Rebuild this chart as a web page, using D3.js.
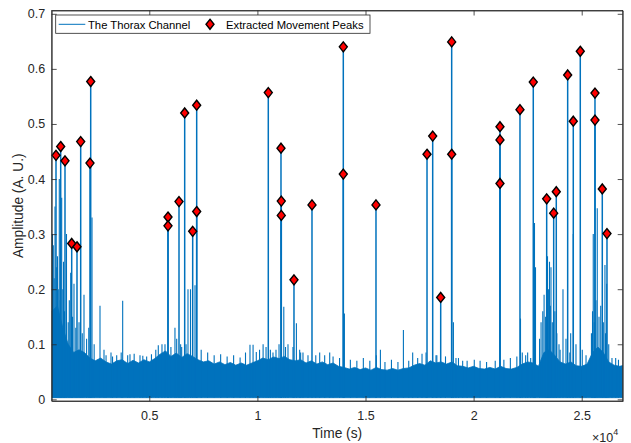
<!DOCTYPE html>
<html>
<head>
<meta charset="utf-8">
<script src="https://cdn.jsdelivr.net/npm/d3@7"></script>
<style>
	body { margin: 0; background: #fff; }
	svg { font-family: "Liberation Sans", Arial, sans-serif; }
	.axis path, .axis line { stroke: #262626; stroke-width: 0.8; }
	.axis text { fill: #262626; font-size: 12.5px; }
</style>
</head>
<body>
<div id="chart"></div>
<script>
// peaks picked out by the detector (sample index, amplitude)
var peakTime = [685, 902, 1101, 1411, 1656, 1827, 2257, 2290, 5865, 5865, 6374, 6637, 7007, 7192, 7192,
	10504, 11091, 11105, 11105, 11692, 12525, 13973, 13973, 15485, 17845, 18108, 18478, 18986, 18986,
	21220, 21220, 21220, 22145, 22760, 23380, 23704, 23824, 24351, 24610, 24934, 25614, 25614, 25952, 26169];
var peakAmp = [0.443, 0.459, 0.433, 0.283, 0.277, 0.468, 0.429, 0.577, 0.331, 0.315, 0.359, 0.520, 0.305, 0.534, 0.341,
	0.557, 0.456, 0.360, 0.334, 0.217, 0.353, 0.640, 0.409, 0.353, 0.445, 0.478, 0.185, 0.649, 0.445,
	0.495, 0.471, 0.392, 0.526, 0.576, 0.364, 0.338, 0.377, 0.589, 0.505, 0.632, 0.556, 0.507, 0.382, 0.301];

// top of the dense noise band, every 250 samples from 500
var envStart = 500, envStep = 250;
var envTop = [0.16, 0.17, 0.13, 0.10, 0.085, 0.09, 0.085, 0.075, 0.07, 0.075,
	0.068, 0.064, 0.07, 0.072, 0.065, 0.071, 0.066, 0.072, 0.068, 0.074,
	0.082, 0.088, 0.078, 0.084, 0.076, 0.083, 0.078, 0.072, 0.068, 0.07,
	0.064, 0.068, 0.063, 0.067, 0.062, 0.066, 0.062, 0.066, 0.07, 0.075,
	0.072, 0.077, 0.074, 0.078, 0.072, 0.07, 0.072, 0.066, 0.07, 0.064,
	0.068, 0.063, 0.066, 0.06, 0.058, 0.055, 0.058, 0.054, 0.057, 0.053,
	0.058, 0.054, 0.053, 0.056, 0.053, 0.056, 0.057, 0.062, 0.065, 0.062,
	0.07, 0.066, 0.068, 0.064, 0.068, 0.061, 0.06, 0.057, 0.06, 0.056,
	0.055, 0.058, 0.055, 0.06, 0.056, 0.055, 0.058, 0.064, 0.068, 0.066,
	0.06, 0.085, 0.09, 0.08, 0.068, 0.064, 0.068, 0.061, 0.06, 0.064,
	0.085, 0.095, 0.085, 0.068, 0.062, 0.06, 0.062];
var envLow = 0.003;

// other spikes in the signal that were not marked
var spikeTime = [523, 560, 600, 639, 700, 754, 790, 837, 880, 948, 1000, 1032, 1080, 1170, 1250, 1300, 1365,
	1450, 1517, 1600, 1750, 1900, 1980, 2100, 2200, 2350, 2450, 2720, 2905, 3000, 3229, 3300, 3492, 3700, 3769,
	4000, 4107, 4300, 4570, 4700, 4878, 5100, 5300, 5416, 5587, 5726, 6000, 6187, 6267, 6450, 6498, 6700, 6790,
	6906, 7114, 7400, 7700, 8000, 8300, 8600, 8900, 9200, 9450,
	9657, 9800, 9949, 10100, 10264, 10400, 10600, 10721, 10860, 11000, 11221, 11300, 11415, 11646, 11804, 11955,
	12000, 12108, 12340, 12700, 12881, 13112, 13344, 13500, 13800,
	14024, 14300, 14600, 14900, 15200, 15500, 15689, 15900, 16200, 16500, 16753, 17000, 17182, 17413, 17614,
	17800, 18261, 18300, 18700, 19066, 19185, 19300, 19494, 19700, 20031, 20300, 20600, 21000, 21400, 21700,
	22000, 22169, 22251, 22408, 22500, 22640, 22816, 22863, 23050, 23120, 23200, 23260, 23330, 23418, 23460,
	23510, 23550, 23579, 23640, 23760, 23850, 23950, 24000, 24134, 24273, 24450, 24490, 24609, 24735, 25026,
	25200, 25450, 25500, 25534, 25580, 25660, 25719, 25800, 25880, 26000, 26075, 26100, 26155, 26250, 26400,
	26571, 26700];
var spikeAmp = [0.30, 0.28, 0.22, 0.35, 0.24, 0.26, 0.20, 0.40, 0.18, 0.366, 0.20, 0.25, 0.16, 0.30, 0.14, 0.18, 0.23,
	0.15, 0.21, 0.13, 0.14, 0.12, 0.19, 0.11, 0.13, 0.33, 0.10, 0.17, 0.09, 0.08, 0.085, 0.078, 0.08, 0.085, 0.179,
	0.08, 0.082, 0.083, 0.08, 0.079, 0.078, 0.082, 0.09, 0.098, 0.10, 0.10, 0.095, 0.13, 0.11, 0.10, 0.095, 0.10, 0.20,
	0.20, 0.207, 0.09, 0.085, 0.08, 0.082, 0.078, 0.08, 0.076, 0.085,
	0.099, 0.099, 0.086, 0.09, 0.10, 0.095, 0.09, 0.085, 0.09, 0.10, 0.168, 0.095, 0.10, 0.095, 0.138, 0.09,
	0.085, 0.085, 0.08, 0.08, 0.085, 0.08, 0.085, 0.078, 0.075,
	0.156, 0.072, 0.07, 0.075, 0.07, 0.08, 0.09, 0.068, 0.072, 0.068, 0.126, 0.07, 0.085, 0.075, 0.083,
	0.085, 0.08, 0.08, 0.078, 0.14, 0.075, 0.075, 0.07, 0.07, 0.072, 0.07, 0.068, 0.07, 0.072, 0.075,
	0.078, 0.147, 0.085, 0.08, 0.085, 0.075, 0.32, 0.24, 0.11, 0.14, 0.16, 0.19, 0.15, 0.26, 0.20,
	0.25, 0.17, 0.24, 0.14, 0.16, 0.12, 0.10, 0.09, 0.20, 0.11, 0.085, 0.12, 0.30, 0.10, 0.09,
	0.08, 0.12, 0.16, 0.30, 0.14, 0.18, 0.347, 0.15, 0.17, 0.14, 0.244, 0.12, 0.21, 0.10, 0.075,
	0.075, 0.072];

var xTicks = [5000, 10000, 15000, 20000, 25000];
var yTicks = [0, 0.1, 0.2, 0.3, 0.4, 0.5, 0.6, 0.7];

var blue = "#0072BD";

drawChart();

function drawChart()
{
	var width = 631, height = 443;
	var left = 51.7, right = 622.7, top = 10.5, bottom = 401;

	var svg = d3.select("#chart").append("svg")
		.attr("width", width)
		.attr("height", height);

	var x = d3.scaleLinear()
		.domain([486, 26896])
		.range([left, right]);

	var y = d3.scaleLinear()
		.domain([-0.003, 0.706])
		.range([bottom, top]);

	svg.append("clipPath")
		.attr("id", "plot-clip")
		.append("rect")
		.attr("x", left).attr("y", top)
		.attr("width", right - left).attr("height", bottom - top);

	var plot = svg.append("g").attr("clip-path", "url(#plot-clip)");

	// dense noise band
	var env = envTop.map(function(v, i) { return { t: envStart + i * envStep, v: v }; });
	var area = d3.area()
		.x(function(d) { return x(d.t); })
		.y0(y(envLow))
		.y1(function(d) { return y(d.v); });

	plot.append("path")
		.datum(env)
		.attr("d", area)
		.style("fill", blue)
		.style("stroke", blue)
		.style("stroke-width", 0.8);

	// unmarked spikes
	plot.selectAll(".spike")
		.data(d3.range(spikeTime.length))
		.enter()
		.append("line")
		.attr("class", "spike")
		.attr("x1", function(i) { return x(spikeTime[i]); })
		.attr("x2", function(i) { return x(spikeTime[i]); })
		.attr("y1", y(envLow))
		.attr("y2", function(i) { return y(spikeAmp[i]); })
		.style("stroke", blue)
		.style("stroke-width", 1.1);

	// signal excursions up to each peak
	plot.selectAll(".stem")
		.data(d3.range(peakTime.length))
		.enter()
		.append("line")
		.attr("class", "stem")
		.attr("x1", function(i) { return x(peakTime[i]); })
		.attr("x2", function(i) { return x(peakTime[i]); })
		.attr("y1", y(envLow))
		.attr("y2", function(i) { return y(peakAmp[i]); })
		.style("stroke", blue)
		.style("stroke-width", 1.5);

	function diamond(cx, cy)
	{
		return "M" + cx + "," + (cy - 5) + "L" + (cx + 4) + "," + cy + "L" + cx + "," + (cy + 5) + "L" + (cx - 4) + "," + cy + "Z";
	}

	svg.selectAll(".peak")
		.data(d3.range(peakTime.length))
		.enter()
		.append("path")
		.attr("class", "peak")
		.attr("d", function(i) { return diamond(x(peakTime[i]), y(peakAmp[i])); })
		.style("fill", "#ff0000")
		.style("stroke", "#000")
		.style("stroke-width", 1.4);

	// axes, MATLAB style box with inward ticks
	var fmt = function(d) { return d3.format("")(+(d / 1e4).toFixed(2)); };

	svg.append("g")
		.attr("class", "axis")
		.attr("transform", "translate(0," + bottom + ")")
		.call(d3.axisBottom(x).tickValues(xTicks).tickFormat(fmt).tickSizeInner(-5).tickSizeOuter(0))
		.selectAll("text")
		.attr("y", 10)
		.attr("dy", "0.71em");

	svg.append("g")
		.attr("class", "axis")
		.attr("transform", "translate(0," + top + ")")
		.call(d3.axisTop(x).tickValues(xTicks).tickFormat("").tickSizeInner(-5).tickSizeOuter(0));

	svg.append("g")
		.attr("class", "axis")
		.attr("transform", "translate(" + left + ",0)")
		.call(d3.axisLeft(y).tickValues(yTicks).tickFormat(function(d) { return d3.format("")(d); }).tickSizeInner(-5).tickSizeOuter(0))
		.selectAll("text")
		.attr("x", -6.5);

	svg.append("g")
		.attr("class", "axis")
		.attr("transform", "translate(" + right + ",0)")
		.call(d3.axisRight(y).tickValues(yTicks).tickFormat("").tickSizeInner(-5).tickSizeOuter(0));

	svg.append("rect")
		.attr("x", left).attr("y", top)
		.attr("width", right - left).attr("height", bottom - top)
		.style("fill", "none")
		.style("stroke", "#262626")
		.style("stroke-width", 0.8);

	// labels
	svg.append("text")
		.attr("x", (left + right) / 2)
		.attr("y", 438)
		.attr("text-anchor", "middle")
		.style("font-size", "13.75px")
		.style("fill", "#262626")
		.text("Time (s)");

	svg.append("text")
		.attr("transform", "translate(23," + ((top + bottom) / 2) + ") rotate(-90)")
		.attr("text-anchor", "middle")
		.style("font-size", "13.75px")
		.style("fill", "#262626")
		.text("Amplitude (A. U.)");

	var exp = svg.append("text")
		.attr("x", 592)
		.attr("y", 441.5)
		.style("font-size", "12.5px")
		.style("fill", "#262626");
	exp.append("tspan").text("\u00d710");
	exp.append("tspan").attr("dy", -7).style("font-size", "9px").text("4");

	// legend
	var lg = svg.append("g").attr("class", "legend");
	lg.append("rect")
		.attr("x", 55.7).attr("y", 15)
		.attr("width", 314.3).attr("height", 18.3)
		.style("fill", "#fff")
		.style("stroke", "#262626")
		.style("stroke-width", 0.8);
	lg.append("line")
		.attr("x1", 58.7).attr("x2", 85.3)
		.attr("y1", 24.3).attr("y2", 24.3)
		.style("stroke", blue)
		.style("stroke-width", 1);
	lg.append("text")
		.attr("x", 88).attr("y", 28.5)
		.style("font-size", "11.25px")
		.style("fill", "#000")
		.text("The Thorax Channel");
	lg.append("path")
		.attr("d", diamond(210, 24.3))
		.style("fill", "#ff0000")
		.style("stroke", "#000")
		.style("stroke-width", 1.4);
	lg.append("text")
		.attr("x", 226).attr("y", 28.5)
		.style("font-size", "11.25px")
		.style("fill", "#000")
		.text("Extracted Movement Peaks");
}
</script>
</body>
</html>
